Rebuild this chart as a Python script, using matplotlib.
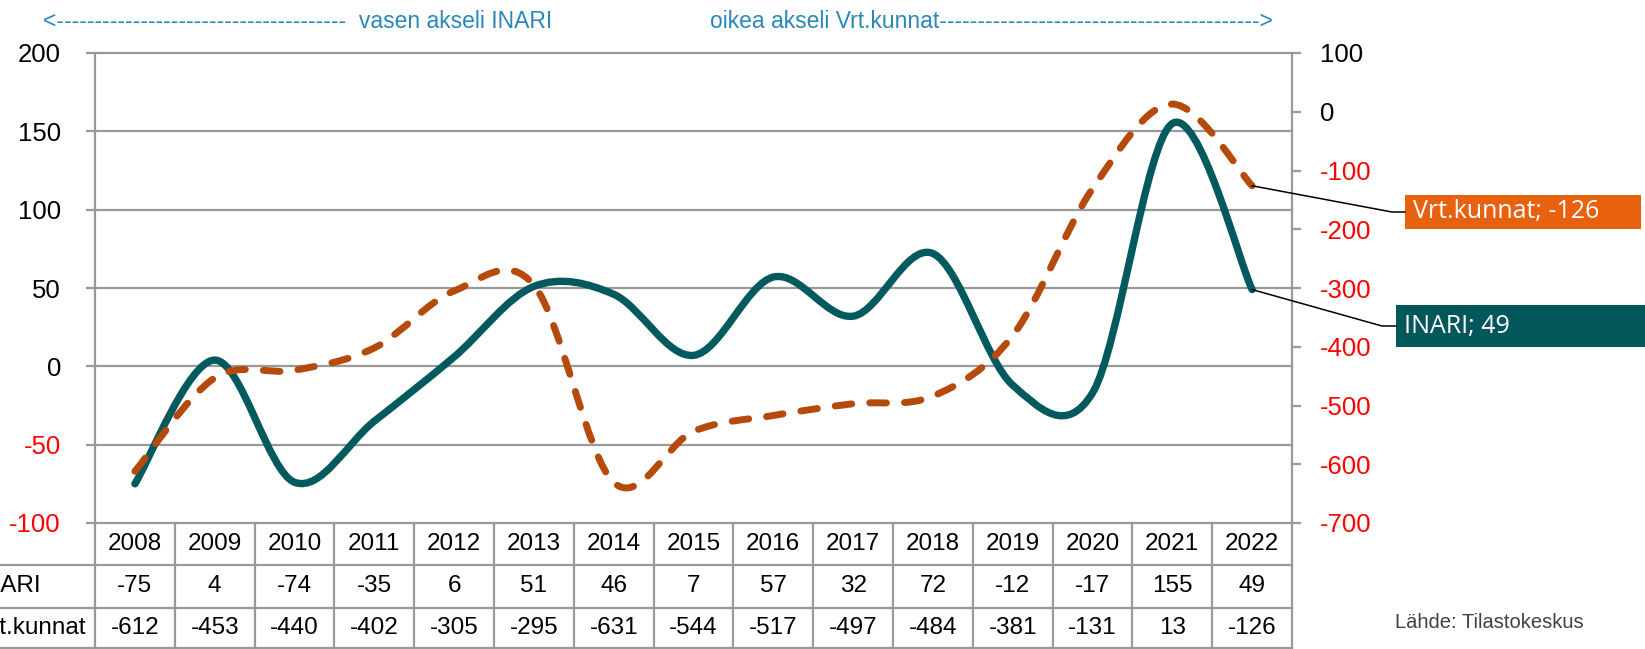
import matplotlib
matplotlib.use("Agg")
import matplotlib.pyplot as plt
from matplotlib.path import Path
from matplotlib.patches import PathPatch, Rectangle
from matplotlib.lines import Line2D
from matplotlib.transforms import blended_transform_factory

# data
years = [2008, 2009, 2010, 2011, 2012, 2013, 2014, 2015, 2016, 2017, 2018, 2019, 2020, 2021, 2022]
inari = [-75, 4, -74, -35, 6, 51, 46, 7, 57, 32, 72, -12, -17, 155, 49]
vrt_kunnat = [-612, -453, -440, -402, -305, -295, -631, -544, -517, -497, -484, -381, -131, 13, -126]
left_ticks = [-100, -50, 0, 50, 100, 150, 200]
right_ticks = [-700, -600, -500, -400, -300, -200, -100, 0, 100]

TEAL = "#035a5e"
ORANGE = "#b64a0c"
BOX_ORANGE = "#e8610e"
BOX_TEAL = "#02575b"
GRID = "#999999"
BLUE = "#2a88b8"

plt.rcParams['font.family'] = ['Liberation Sans', 'DejaVu Sans']
plt.rcParams['axes.unicode_minus'] = False

W, H = 1645, 649
fig = plt.figure(figsize=(W / 100, H / 100), dpi=100)


def fx(px):
    return px / W


def fy(py):
    return 1 - py / H


def smooth_path(xs, ys):
    # Excel-like smoothed line: cubic bezier through every point
    n = len(xs)
    verts = [(xs[0], ys[0])]
    codes = [Path.MOVETO]
    for i in range(n - 1):
        a = max(i - 1, 0)
        b = min(i + 2, n - 1)
        c1 = (xs[i] + (xs[i + 1] - xs[a]) / 6, ys[i] + (ys[i + 1] - ys[a]) / 6)
        c2 = (xs[i + 1] - (xs[b] - xs[i]) / 6, ys[i + 1] - (ys[b] - ys[i]) / 6)
        verts += [c1, c2, (xs[i + 1], ys[i + 1])]
        codes += [Path.CURVE4] * 3
    return Path(verts, codes)


ax = fig.add_axes([fx(95), fy(523), fx(1292 - 95), (523 - 53) / H])
ax2 = ax.twinx()
xs = list(range(len(years)))

ax.set_xlim(-0.5, len(years) - 0.5)
ax.set_ylim(-100, 200)
ax2.set_ylim(-700, 100)
ax.set_yticks(left_ticks)
ax2.set_yticks(right_ticks)
ax.set_xticks([])

ax.yaxis.grid(True, color=GRID, lw=1.6)
for gl in ax.get_ygridlines():
    gl.set_clip_on(False)
ax.set_axisbelow(True)

for s in ['top', 'bottom', 'right']:
    ax.spines[s].set_visible(False)
for s in ['top', 'bottom', 'left']:
    ax2.spines[s].set_visible(False)
ax.spines['left'].set_color(GRID)
ax.spines['left'].set_linewidth(1.6)
ax2.spines['right'].set_color(GRID)
ax2.spines['right'].set_linewidth(1.6)

ax.tick_params(axis='y', length=6.5, width=1.6, color=GRID, pad=18, labelsize=18.5)
ax2.tick_params(axis='y', length=6.5, width=1.6, color=GRID, pad=13.5, labelsize=18.5)
for t, v in zip(ax.get_yticklabels(), left_ticks):
    t.set_color('red' if v < 0 else 'black')
for t, v in zip(ax2.get_yticklabels(), right_ticks):
    t.set_color('red' if v < 0 else 'black')

ax.add_patch(PathPatch(smooth_path(xs, inari), fill=False, edgecolor=TEAL,
                       lw=5.3, capstyle='round', joinstyle='round', clip_on=False))
ax2.add_patch(PathPatch(smooth_path(xs, vrt_kunnat), fill=False, edgecolor=ORANGE,
                        lw=5, linestyle=(0, (2.4, 2.6)), capstyle='round', clip_on=False))

# data table under the chart
bt = blended_transform_factory(ax.transData, fig.transFigure)
row_y = [523, 565, 608, 648]
for i in range(len(years) + 1):
    fig.add_artist(Line2D([i - 0.5, i - 0.5], [fy(523), 0], transform=bt,
                          color=GRID, lw=1.6))
for y in row_y[1:]:
    fig.add_artist(Line2D([-2, len(years) - 0.5], [fy(y), fy(y)], transform=bt,
                          color=GRID, lw=1.6))
for i, yr in enumerate(years):
    fig.text(i, fy(544), str(yr), transform=bt, ha='center', va='center', fontsize=17.5)
    fig.text(i, fy(586.5), str(inari[i]), transform=bt, ha='center', va='center', fontsize=17.5)
    fig.text(i, fy(628), str(vrt_kunnat[i]), transform=bt, ha='center', va='center', fontsize=17.5)
fig.text(fx(-23), fy(586.5), "INARI", ha='left', va='center', fontsize=17.5)
fig.text(fx(-23), fy(628), "Vrt.kunnat", ha='left', va='center', fontsize=17.5)

# axis captions
fig.text(fx(43), fy(21), "<" + "-" * 38 + "  vasen akseli INARI", color=BLUE,
         ha='left', va='center', fontsize=16.5)
fig.text(fx(710), fy(21), "oikea akseli Vrt.kunnat" + "-" * 42 + ">", color=BLUE,
         ha='left', va='center', fontsize=16.5)

fig.text(fx(1395), fy(622), "Lähde: Tilastokeskus", color='#404040',
         ha='left', va='center', fontsize=14.5)

# end labels with leader lines
inv = fig.transFigure.inverted()
p_vrt = inv.transform(ax2.transData.transform((xs[-1], vrt_kunnat[-1])))
p_ina = inv.transform(ax.transData.transform((xs[-1], inari[-1])))
fig.add_artist(Line2D([p_vrt[0], fx(1392), fx(1405)], [p_vrt[1], fy(212), fy(212)],
                      color='black', lw=1.1))
fig.add_artist(Line2D([p_ina[0], fx(1382), fx(1396)], [p_ina[1], fy(326), fy(326)],
                      color='black', lw=1.1))
fig.add_artist(Rectangle((fx(1405), fy(229)), fx(1641 - 1405), (229 - 195) / H,
                         transform=fig.transFigure, color=BOX_ORANGE, lw=0))
fig.add_artist(Rectangle((fx(1396), fy(347)), fx(1660 - 1396), (347 - 305) / H,
                         transform=fig.transFigure, color=BOX_TEAL, lw=0))
fig.text(fx(1413), fy(212), "Vrt.kunnat; -126", color='white', ha='left', va='center',
         fontsize=18, family=['Open Sans', 'DejaVu Sans'])
fig.text(fx(1404), fy(326), "INARI; 49", color='white', ha='left', va='center',
         fontsize=18, family=['Open Sans', 'DejaVu Sans'])

fig.savefig("out.png", dpi=100)
